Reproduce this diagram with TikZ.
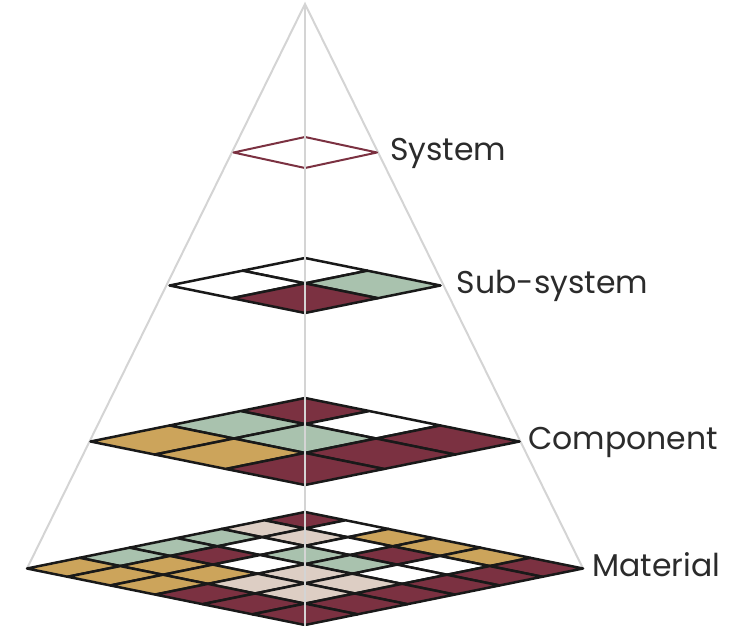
\documentclass[tikz,border=0pt]{standalone}
\usepackage{fontspec}
\setmainfont{Poppins}
\usetikzlibrary{positioning}

\definecolor{wine}{HTML}{7B3141}
\definecolor{sage}{HTML}{A9C2AE}
\definecolor{ochre}{HTML}{CCA45B}
\definecolor{sand}{HTML}{DDCEC4}
\definecolor{guide}{HTML}{D4D4D4}
\definecolor{ink}{HTML}{2B2B2B}

% one level of the pyramid: #1 centre y, #2 half width, #3 half height,
% #4 cells per side, #5 rows of fill colours (top corner first)
\newcommand{\gridlayer}[5]{%
  \foreach \row [count=\i from 0] in {#5} {
    \foreach \cellcol [count=\j from 0] in \row {
      \filldraw[cell, fill=\cellcol]
        ({305-#2*persp(\i/#4)+#2*persp(\j/#4)},     {#1-#3+#3*persp(\i/#4)+#3*persp(\j/#4)})
     -- ({305-#2*persp((\i+1)/#4)+#2*persp(\j/#4)}, {#1-#3+#3*persp((\i+1)/#4)+#3*persp(\j/#4)})
     -- ({305-#2*persp((\i+1)/#4)+#2*persp((\j+1)/#4)}, {#1-#3+#3*persp((\i+1)/#4)+#3*persp((\j+1)/#4)})
     -- ({305-#2*persp(\i/#4)+#2*persp((\j+1)/#4)}, {#1-#3+#3*persp(\i/#4)+#3*persp((\j+1)/#4)})
     -- cycle;
    }
  }
}

\begin{document}
\begin{tikzpicture}[x=1pt, y=-1pt,
    declare function={persp(\t)=\t/(\t+(1-\t)*1.167);},
    cell/.style={draw=black!90, line width=2.5pt, line join=round},
    guideline/.style={draw=guide, line width=2pt},
    lbl/.style={text=ink, font=\fontsize{31.5}{38}\selectfont, inner sep=0pt,
                text height=0.75em, text depth=0.25em, yshift=-5pt}]
    \useasboundingbox (0,0) rectangle (734,626);

    % pyramid outline
    \coordinate (apex) at (305,4);
    \coordinate (base) at (305,626);
    \coordinate (matL) at (27,568.5);
    \coordinate (matR) at (583,568.5);
    \coordinate (compR) at (520,441.5);
    \coordinate (subR)  at (440.5,285.5);
    \coordinate (sysR)  at (377,152.5);
    \draw[guideline] (matL) -- (apex) -- (matR);

    % levels, top to bottom
    \draw[wine, line width=2pt, line join=round]
        (305,137) -- (sysR) -- (305,168) -- (233.5,152.5) -- cycle;
    \gridlayer{285.5}{135.5}{27.5}{2}{{white,sage},{white,wine}}
    \gridlayer{441.5}{214.5}{43.5}{3}{{wine,white,wine},{sage,sage,wine},{ochre,ochre,wine}}
    \gridlayer{568.5}{278}{56.5}{6}{%
        {wine,white,ochre,ochre,ochre,wine},
        {sand,sand,white,wine,white,wine},
        {sage,white,sage,sage,white,wine},
        {sage,wine,white,sand,sand,wine},
        {sage,ochre,ochre,sand,sand,wine},
        {ochre,ochre,ochre,wine,wine,wine}}

    % centre axis over the levels
    \draw[guideline] (apex) -- (base);

    \node[lbl, right=13pt of sysR]  (sysLbl)  {System};
    \node[lbl, right=16pt of subR]  (subLbl)  {Sub-system};
    \node[lbl, right=8pt of compR]  (compLbl) {Component};
    \node[lbl, right=9pt of matR]   (matLbl)  {Material};
\end{tikzpicture}
\end{document}
